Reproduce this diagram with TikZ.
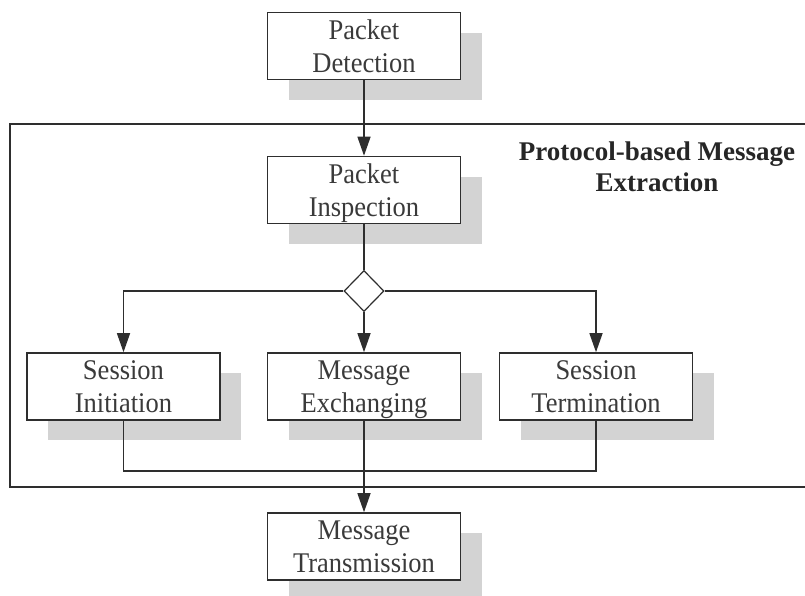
\documentclass[tikz,border=0pt]{standalone}
\usepackage{fontspec}
\setmainfont{Liberation Serif}
\newfontfamily\stagefont[FakeStretch=0.93]{Liberation Serif}
\usetikzlibrary{arrows.meta,shapes.geometric,shadows}
\definecolor{ink}{HTML}{2E2E2E}
\definecolor{txt}{HTML}{3A3A3A}
\definecolor{shade}{HTML}{D3D3D3}
\begin{document}
\begin{tikzpicture}[x=1pt,y=-1pt,
  stage/.style={draw=ink, line width=1.6pt, fill=white,
    minimum width=193pt, minimum height=67pt, inner sep=0pt,
    align=center, text=txt, text depth=0pt,
    font=\stagefont\fontsize{28.5}{33}\selectfont,
    drop shadow={shadow xshift=21pt, shadow yshift=-20pt, fill=shade, opacity=1}},
  link/.style={draw=ink, line width=1.4pt},
  arr/.style={link, -{Triangle[length=19pt,width=13pt]}},
  switch/.style={diamond, draw=ink, line width=1.2pt, fill=white,
    minimum width=40pt, minimum height=41pt, inner sep=0pt}]
\path[use as bounding box, clip] (0,0) rectangle (805,595);
\fill[white] (0,0) rectangle (805,595);

% enclosing frame of the extraction stage
\draw[ink, line width=1.8pt] (10,124) rectangle (815,487);
\node[font=\bfseries\fontsize{27}{31}\selectfont, align=center, text=black!85, inner sep=0pt]
  (title) at (657,167) {Protocol-based Message\\Extraction};

% stages
\node[stage] (pd) at (364,46)  {Packet\\Detection};
\node[stage] (pi) at (364,190) {Packet\\Inspection};
\node[switch] (sw) at (364,291) {};
\node[stage] (si) at (123.5,386.5) {Session\\Initiation};
\node[stage] (me) at (364,386.5)   {Message\\Exchanging};
\node[stage] (st) at (596,386.5)   {Session\\Termination};
\node[stage] (mt) at (364,546.5)   {Message\\Transmission};
\coordinate (merge) at (364,471);

% connectors
\draw[arr]  (pd) -- (pi);
\draw[link] (pi) -- (sw);
\draw[arr]  (sw.west) -| (si.north);
\draw[arr]  (sw) -- (me);
\draw[arr]  (sw.east) -| (st.north);
\draw[link] (si.south) |- (merge) -| (st.south);
\draw[arr]  (me) -- (mt);
\end{tikzpicture}
\end{document}
